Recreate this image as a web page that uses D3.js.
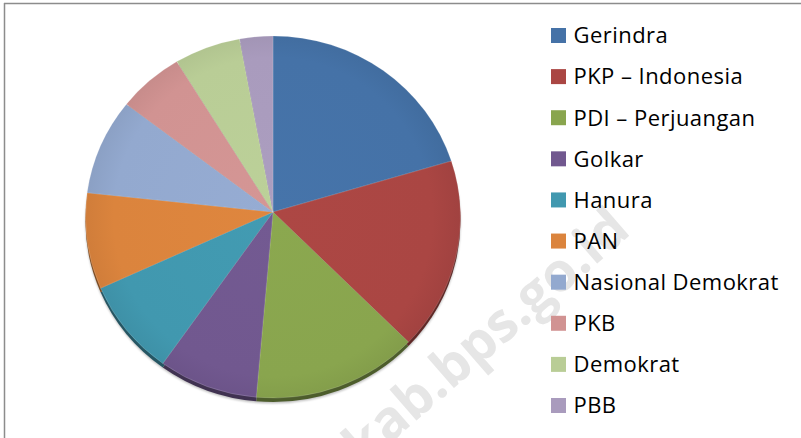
<!DOCTYPE html>
<html lang="en">
<head>
    <meta charset="UTF-8">
    <title>Kursi DPRD per Partai</title>
    <script src="https://cdnjs.cloudflare.com/ajax/libs/d3/7.8.5/d3.min.js"></script>
    <style>
        html, body { margin: 0; padding: 0; background: #fff; }
        svg { display: block; }
    </style>
</head>
<body>
<svg id="chart" width="801" height="438"></svg>

<script>
    // party names, seat counts and colours (Excel palette)
    const parties = ["Gerindra", "PKP \u2013 Indonesia", "PDI \u2013 Perjuangan", "Golkar", "Hanura",
        "PAN", "Nasional Demokrat", "PKB", "Demokrat", "PBB"];
    const seats = [7, 6, 5, 3, 3, 3, 3, 2, 2, 1];
    const colors = ["#4572a7", "#aa4643", "#89a54e", "#71588f", "#4198af",
        "#db843d", "#93a9cf", "#d19392", "#b9cd96", "#a99bbd"];

    const svg = d3.select("#chart");
    const W = 801, H = 438;

    // frame lines (top and left only are visible)
    svg.append("line").attr("x1", 4).attr("x2", W).attr("y1", 3.5).attr("y2", 3.5)
        .attr("stroke", "#8c8c8c").attr("stroke-width", 1.5);
    svg.append("line").attr("x1", 4.5).attr("x2", 4.5).attr("y1", 3).attr("y2", H)
        .attr("stroke", "#8c8c8c").attr("stroke-width", 1.5);

    // watermark
    svg.append("text")
        .attr("transform", "translate(484,334) rotate(-41)")
        .attr("text-anchor", "middle")
        .attr("dominant-baseline", "central")
        .attr("font-family", "'Open Sans', sans-serif")
        .attr("font-weight", "bold")
        .attr("font-size", 54)
        .attr("fill", "#e6e6e6")
        .text("kab.bps.go.id");

    // pie geometry: slightly tilted disc, apex a little above the ellipse centre
    const cx = 273, cy = 217, rx = 187.5, ry = 181, apexY = 212, depth = 4;
    const pie = d3.pie().sort(null).value(d => d)(seats);

    const pt = (a, dy) => [cx + rx * Math.sin(a), cy - ry * Math.cos(a) + dy];

    function slicePath(d, dy) {
        const p0 = pt(d.startAngle, dy), p1 = pt(d.endAngle, dy);
        const large = d.endAngle - d.startAngle > Math.PI ? 1 : 0;
        return `M${cx},${apexY + dy}L${p0[0]},${p0[1]}A${rx},${ry} 0 ${large} 1 ${p1[0]},${p1[1]}Z`;
    }

    const defs = svg.append("defs");
    defs.append("filter").attr("id", "soft")
        .append("feGaussianBlur").attr("stdDeviation", 1.2);

    // soft shadow + side of the disc
    svg.append("ellipse")
        .attr("cx", cx).attr("cy", cy + depth + 1.5)
        .attr("rx", rx).attr("ry", ry)
        .attr("fill", "#000").attr("opacity", 0.25)
        .attr("filter", "url(#soft)");

    svg.append("g").selectAll("path")
        .data(pie)
        .join("path")
        .attr("d", d => slicePath(d, depth))
        .attr("fill", (d, i) => d3.color(colors[i]).darker(1.6));

    // gradients for the top faces
    colors.forEach((c, i) => {
        const g = defs.append("radialGradient").attr("id", "g" + i)
            .attr("gradientUnits", "userSpaceOnUse")
            .attr("cx", cx).attr("cy", cy).attr("r", rx);
        g.append("stop").attr("offset", "0%").attr("stop-color", d3.color(c).brighter(0.05));
        g.append("stop").attr("offset", "85%").attr("stop-color", c);
        g.append("stop").attr("offset", "100%").attr("stop-color", d3.color(c).darker(0.15));
    });

    svg.append("g").selectAll("path")
        .data(pie)
        .join("path")
        .attr("d", d => slicePath(d, 0))
        .attr("fill", (d, i) => `url(#g${i})`)
        .attr("stroke", "rgba(255,255,255,0.25)")
        .attr("stroke-width", 0.6)
        .attr("stroke-linejoin", "round");

    // legend
    const y = d3.scalePoint().domain(parties).range([35.5, 405.5]);
    const legend = svg.append("g").selectAll("g")
        .data(parties)
        .join("g")
        .attr("transform", d => `translate(551,${y(d)})`);

    legend.append("rect")
        .attr("x", 0).attr("y", -7.5)
        .attr("width", 15).attr("height", 15)
        .attr("fill", (d, i) => colors[i]);

    legend.append("text")
        .attr("x", 22.5).attr("y", 7.8)
        .attr("font-family", "'Open Sans', sans-serif")
        .attr("font-size", 22)
        .attr("letter-spacing", 0.45)
        .attr("fill", "#000")
        .text(d => d);
</script>
</body>
</html>
